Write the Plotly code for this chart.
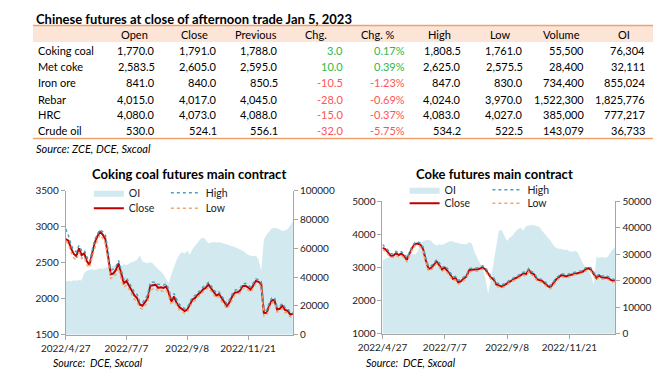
import plotly.graph_objects as go

W, H = 670, 380
OFF = 8  # page body margin offset
FONT = "Lato"

# ---------------- table data ----------------
tbl_title = "Chinese futures at close of afternoon trade Jan 5, 2023"
tbl_columns = ["Open", "Close", "Previous", "Chg.", "Chg. %", "High", "Low", "Volume", "OI"]
tbl_products = ["Coking coal", "Met coke", "Iron ore", "Rebar", "HRC", "Crude oil"]
tbl_open = [1770.0, 2583.5, 841.0, 4015.0, 4080.0, 530.0]
tbl_close = [1791.0, 2605.0, 840.0, 4017.0, 4073.0, 524.1]
tbl_prev = [1788.0, 2595.0, 850.5, 4045.0, 4088.0, 556.1]
tbl_chg = [3.0, 10.0, -10.5, -28.0, -15.0, -32.0]
tbl_chg_pct = [0.17, 0.39, -1.23, -0.69, -0.37, -5.75]
tbl_high = [1808.5, 2625.0, 847.0, 4024.0, 4083.0, 534.2]
tbl_low = [1761.0, 2575.5, 830.0, 3970.0, 4027.0, 522.5]
tbl_volume = [55500, 28400, 734400, 1522300, 385000, 143079]
tbl_oi = [76304, 32111, 855024, 1825776, 777217, 36733]
tbl_source = "Source: ZCE, DCE, Sxcoal"

# ---------------- chart data ----------------
x_tick_labels = ["2022/4/27", "2022/7/7", "2022/9/8", "2022/11/21"]
x_tick_index = [0, 23, 46, 69]

cc_close = [2830, 2808, 2700, 2625, 2590, 2700, 2605, 2630, 2520, 2469,
            2630, 2780, 2870, 2930, 2890, 2830, 2600, 2340, 2350, 2400,
            2490, 2330, 2215, 2246, 2180, 2100, 2045, 2010, 1920, 1902,
            1945, 2000, 2180, 2190, 2195, 2150, 2160, 2150, 2170, 2080,
            1955, 2030, 1940, 1885, 1860, 1828, 1848, 1925, 1990, 2010,
            2060, 2085, 2130, 2150, 2200, 2145, 2090, 2044, 2065, 2000,
            1955, 1895, 1950, 2030, 2085, 2090, 2113, 2175, 2180, 2158,
            2125, 2185, 2247, 2235, 2203, 1800, 1800, 1900, 1979, 1980,
            1850, 1860, 1900, 1845, 1830, 1778, 1791]
cc_high = [2970, 2880, 2750, 2680, 2650, 2740, 2670, 2680, 2580, 2510,
           2670, 2820, 2900, 2960, 2930, 2880, 2680, 2400, 2410, 2450,
           2530, 2390, 2270, 2290, 2230, 2150, 2090, 2060, 1960, 1940,
           1990, 2050, 2230, 2230, 2230, 2200, 2200, 2190, 2210, 2130,
           2000, 2070, 1990, 1920, 1895, 1860, 1880, 1960, 2025, 2045,
           2090, 2115, 2165, 2185, 2225, 2180, 2125, 2080, 2095, 2035,
           1990, 1930, 1985, 2065, 2115, 2125, 2145, 2205, 2215, 2190,
           2160, 2220, 2275, 2265, 2240, 1850, 1835, 1935, 2010, 2015,
           1890, 1895, 1935, 1880, 1865, 1810, 1808]
cc_low = [2800, 2760, 2650, 2570, 2540, 2650, 2560, 2580, 2470, 2430,
          2580, 2720, 2820, 2890, 2840, 2760, 2520, 2280, 2290, 2340,
          2430, 2270, 2160, 2190, 2130, 2050, 1990, 1960, 1870, 1860,
          1900, 1950, 2120, 2140, 2150, 2100, 2110, 2100, 2120, 2030,
          1910, 1975, 1900, 1840, 1825, 1795, 1815, 1880, 1950, 1975,
          2025, 2050, 2095, 2115, 2160, 2105, 2050, 2005, 2030, 1960,
          1915, 1860, 1910, 1990, 2050, 2055, 2080, 2140, 2145, 2120,
          2090, 2150, 2210, 2200, 2165, 1760, 1765, 1860, 1945, 1945,
          1815, 1825, 1865, 1810, 1795, 1745, 1761]
cc_oi = [37000, 37500, 37000, 37800, 37400, 38000, 37600, 43000, 44500, 45000,
         45400, 45000, 45800, 46200, 45600, 46700, 47400, 46800, 48000, 47500,
         48200, 47800, 49000, 48500, 49700, 50500, 51000, 52000, 55200, 51000,
         50200, 49700, 50500, 49500, 47400, 45500, 44000, 42000, 38500, 36000,
         42000, 47500, 52000, 55500, 57500, 56200, 58400, 55500, 59500, 61800,
         64500, 66400, 67500, 66000, 63500, 64200, 64400, 64000, 64200, 63800,
         63300, 62800, 62000, 61500, 60900, 60000, 59200, 58300, 57000, 55500,
         54800, 54500, 54800, 52000, 44500, 66000, 69500, 72000, 74000, 74200,
         74000, 73000, 72000, 72500, 73200, 76000, 79000]

ck_close = [3595, 3560, 3465, 3360, 3360, 3430, 3380, 3420, 3350, 3229,
            3420, 3600, 3715, 3725, 3690, 3560, 3220, 2960, 2990, 3075,
            3180, 3070, 2940, 3000, 2910, 2791, 2660, 2680, 2550, 2590,
            2670, 2730, 2920, 2940, 2940, 2940, 2980, 3000, 2940, 2810,
            2700, 2645, 2490, 2460, 2425, 2470, 2520, 2596, 2630, 2670,
            2713, 2760, 2820, 2800, 2930, 2830, 2790, 2650, 2620, 2590,
            2520, 2440, 2405, 2515, 2630, 2700, 2770, 2750, 2730, 2770,
            2790, 2830, 2830, 2845, 2880, 2945, 2985, 2930, 2820, 2680,
            2760, 2700, 2690, 2700, 2640, 2600, 2605]
ck_high = [3700, 3620, 3530, 3420, 3410, 3490, 3440, 3480, 3410, 3290,
           3470, 3650, 3760, 3780, 3740, 3630, 3300, 3030, 3050, 3130,
           3240, 3140, 3000, 3050, 2970, 2850, 2720, 2730, 2610, 2640,
           2720, 2780, 2970, 2990, 2990, 2990, 3030, 3050, 3000, 2870,
           2750, 2700, 2550, 2510, 2475, 2510, 2565, 2640, 2675, 2715,
           2755, 2805, 2865, 2850, 2975, 2880, 2840, 2700, 2665, 2635,
           2570, 2490, 2450, 2560, 2675, 2745, 2815, 2795, 2775, 2815,
           2835, 2875, 2880, 2890, 2925, 2990, 3030, 2985, 2875, 2735,
           2805, 2750, 2735, 2745, 2690, 2645, 2625]
ck_low = [3540, 3500, 3400, 3300, 3310, 3370, 3320, 3360, 3290, 3180,
          3360, 3540, 3660, 3670, 3630, 3480, 3150, 2900, 2930, 3020,
          3120, 3010, 2880, 2940, 2850, 2730, 2600, 2620, 2500, 2540,
          2610, 2680, 2860, 2890, 2890, 2890, 2930, 2950, 2880, 2750,
          2650, 2590, 2440, 2410, 2380, 2420, 2470, 2550, 2585, 2625,
          2670, 2715, 2770, 2755, 2880, 2780, 2740, 2600, 2575, 2545,
          2470, 2395, 2360, 2465, 2580, 2650, 2720, 2705, 2685, 2720,
          2745, 2785, 2785, 2800, 2835, 2895, 2935, 2880, 2770, 2630,
          2710, 2650, 2645, 2655, 2595, 2555, 2575]
ck_oi = [27800, 28300, 28800, 29300, 28900, 29500, 29200, 29800, 29400, 30000,
         29600, 30200, 29800, 31000, 34000, 35000, 35300, 35500, 35000, 33800,
         33300, 33800, 33500, 34000, 34300, 35000, 34800, 34600, 34200, 33900,
         33900, 33800, 34700, 34000, 30800, 28800, 26300, 24600, 21000, 15000,
         20500, 27500, 33000, 39000, 39200, 37000, 35000, 36400, 37000, 38500,
         39500, 40000, 39000, 40600, 40900, 41100, 41000, 40600, 40300, 38800,
         37600, 36600, 35200, 33600, 32500, 32100, 32100, 31600, 31800, 31200,
         31000, 31300, 30900, 28800, 26500, 25200, 24200, 22000, 18500, 29100,
         28600, 29000, 28700, 28900, 30500, 32000, 32500]

# ---------------- styles ----------------
C_OI = "#D2E9EF"
C_CLOSE = "#C00000"
C_HIGH = "#4F9FB8"
C_LOW = "#F5A36B"
C_AXIS = "#A6A6A6"
C_GREEN = "#2EB84B"
C_RED = "#FF5454"
C_ORANGE = "#F4A06B"
C_HEAD = "#FCE4D6"


def px(x):
    return (x - OFF) / W


def py(y):
    return 1 - (y - OFF) / H


fig = go.Figure()

idx_cc = list(range(len(cc_close)))
idx_ck = list(range(len(ck_close)))


def add_chart(idx, oi, close, high, low, xa, ya_oi, ya_px, legends):
    fig.add_trace(go.Scatter(x=idx, y=oi, name="OI", mode="lines", fill="tozeroy",
                             fillcolor=C_OI, line=dict(width=0, color=C_OI),
                             xaxis=xa, yaxis=ya_oi, legend=legends[0], showlegend=True))
    fig.add_trace(go.Scatter(x=idx, y=close, name="Close", mode="lines",
                             line=dict(width=2, color=C_CLOSE),
                             xaxis=xa, yaxis=ya_px, legend=legends[2], showlegend=True))
    fig.add_trace(go.Scatter(x=idx, y=high, name="High", mode="lines",
                             line=dict(width=1.5, color=C_HIGH, dash="dot"),
                             xaxis=xa, yaxis=ya_px, legend=legends[1], showlegend=True))
    fig.add_trace(go.Scatter(x=idx, y=low, name="Low", mode="lines",
                             line=dict(width=1.5, color=C_LOW, dash="dot"),
                             xaxis=xa, yaxis=ya_px, legend=legends[3], showlegend=True))


add_chart(idx_cc, cc_oi, cc_close, cc_high, cc_low, "x", "y", "y2",
          ["legend", "legend2", "legend3", "legend4"])
add_chart(idx_ck, ck_oi, ck_close, ck_high, ck_low, "x2", "y3", "y4",
          ["legend5", "legend6", "legend7", "legend8"])

axis_font = dict(family=FONT, size=10, color="#222")
common_y = dict(showgrid=False, zeroline=False, showline=True, linecolor=C_AXIS,
                linewidth=1, ticks="outside", ticklen=4, tickcolor=C_AXIS,
                tickfont=axis_font, tickformat="d")
common_x = dict(showgrid=False, zeroline=False, showline=True, linecolor=C_AXIS,
                linewidth=1, ticks="outside", ticklen=4, tickcolor=C_AXIS,
                tickfont=axis_font, tickmode="array", tickvals=x_tick_index,
                ticktext=x_tick_labels)

L_dom = [px(42), px(278)]
R_dom = [px(371), px(613)]

fig.update_layout(
    width=W, height=H,
    margin=dict(l=0, r=0, t=0, b=0),
    paper_bgcolor="white", plot_bgcolor="rgba(0,0,0,0)",
    showlegend=True,
    font=dict(family=FONT, color="#000"),
    xaxis=dict(domain=L_dom, anchor="y", range=[0, len(cc_close) - 1], **common_x),
    yaxis=dict(domain=[py(339), py(190)], anchor="x", side="right",
               range=[0, 100000], dtick=20000, **common_y),
    yaxis2=dict(anchor="x", overlaying="y", side="left",
                range=[1500, 3500], dtick=500, **common_y),
    xaxis2=dict(domain=R_dom, anchor="y3", range=[0, len(ck_close) - 1], **common_x),
    yaxis3=dict(domain=[py(338), py(201)], anchor="x2", side="right",
                range=[0, 50000], dtick=10000, **common_y),
    yaxis4=dict(anchor="x2", overlaying="y3", side="left",
                range=[1000, 5000], dtick=1000, **common_y),
)

# legends placed individually
leg_font = dict(family=FONT, size=10.5, color="#222")
leg_pos = {
    "legend": (78, 192), "legend2": (158, 192), "legend3": (78, 208), "legend4": (158, 208),
    "legend5": (406, 189), "legend6": (492, 189), "legend7": (406, 203), "legend8": (492, 203),
}
for name, (lx, ly) in leg_pos.items():
    fig.update_layout({name: dict(x=px(lx - 12), y=py(ly), xanchor="left", yanchor="middle",
                                  bgcolor="rgba(0,0,0,0)", borderwidth=0, font=leg_font,
                                  itemwidth=30, orientation="h", itemclick=False,
                                  visible=True)})

ann = []


def text(x, y, s, size=11, anchor="left", color="#000", bold=False, italic=False):
    if bold:
        s = "<b>" + s + "</b>"
    if italic:
        s = "<i>" + s + "</i>"
    ann.append(dict(x=px(x), y=py(y), xref="paper", yref="paper", text=s, showarrow=False,
                    xanchor=anchor, yanchor="middle",
                    font=dict(family=FONT, size=size, color=color)))


# table
text(9, 12, tbl_title, size=13, bold=True)
col_right = [137, 201, 265, 332, 396, 455, 519, 582, 646]
col_head = [113, 176, 240, 302, 366, 430, 493, 557, 622]
for c, hx in zip(tbl_columns, col_head):
    text(hx, 28, c, anchor="center")
row_y = [45, 61.5, 78, 95, 111.5, 128]
for r, name in enumerate(tbl_products):
    y = row_y[r]
    text(11, y, name)
    chg_color = C_GREEN if tbl_chg[r] >= 0 else C_RED
    vals = [
        (f"{tbl_open[r]:,.1f}", "#000"),
        (f"{tbl_close[r]:,.1f}", "#000"),
        (f"{tbl_prev[r]:,.1f}", "#000"),
        (f"{tbl_chg[r]:,.1f}", chg_color),
        (f"{tbl_chg_pct[r]:.2f}%", chg_color),
        (f"{tbl_high[r]:,.1f}", "#000"),
        (f"{tbl_low[r]:,.1f}", "#000"),
        (f"{tbl_volume[r]:,}", "#000"),
        (f"{tbl_oi[r]:,}", "#000"),
    ]
    for (s, col), rx in zip(vals, col_right):
        text(rx, y, s, anchor="right", color=col)
text(9, 146, tbl_source, size=11, italic=True)

# chart titles and sources
text(170, 173, "Coking coal futures main contract", size=13, anchor="center", bold=True)
text(487, 173, "Coke futures main contract", size=13, anchor="center", bold=True)
text(27, 368, "Source:  DCE, Sxcoal", size=10.5, italic=True)
text(352, 368, "Source:  DCE, Sxcoal", size=10.5, italic=True)

fig.update_layout(annotations=ann)

shapes = [
    dict(type="rect", xref="paper", yref="paper", x0=px(8), x1=px(652), y0=py(36), y1=py(19),
         fillcolor=C_HEAD, line=dict(width=0), layer="below"),
    dict(type="line", xref="paper", yref="paper", x0=px(8), x1=px(652), y0=py(19), y1=py(19),
         line=dict(color=C_ORANGE, width=1.5)),
    dict(type="line", xref="paper", yref="paper", x0=px(8), x1=px(652), y0=py(136), y1=py(136),
         line=dict(color=C_ORANGE, width=1.5)),
]
fig.update_layout(shapes=shapes)

fig.write_html("out.html")
